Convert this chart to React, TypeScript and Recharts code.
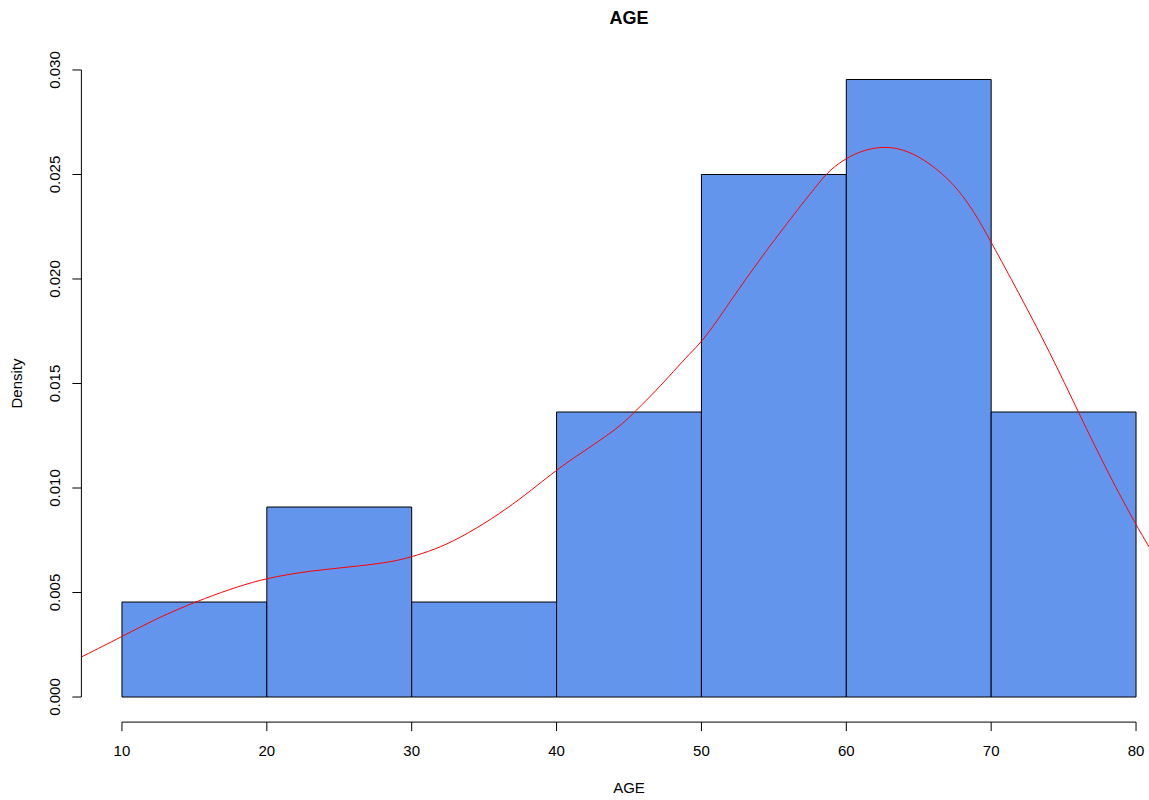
import React from "react";
import { ComposedChart, XAxis, YAxis, Line, ReferenceArea, ReferenceLine } from "recharts";

// histogram bins (AGE) and their densities
const binStarts = [10, 20, 30, 40, 50, 60, 70];
const binEnds = [20, 30, 40, 50, 60, 70, 80];
const binDensity = [0.004545, 0.009091, 0.004545, 0.013636, 0.025, 0.029545, 0.013636];

// kernel density estimate
const densX = [7.24, 10, 12.5, 15.1, 17.5, 19.5, 21.8, 24.1, 26.4, 28.7, 30, 31.5, 33.3, 35.6, 37.4, 39.2, 40, 41.16, 42.31, 43.46, 44.61, 45.41, 46.91, 48.06, 49.21, 50.02, 51.05, 52.2, 54.5, 56.8, 58.18, 58.87, 59.98, 61.17, 62.67, 64.17, 65.78, 67.39, 68.77, 70.04, 71.8, 74.1, 76, 78.2, 80, 80.9, 82.8];
const densY = [0.00193, 0.00289, 0.0038, 0.00456, 0.00517, 0.0056, 0.00592, 0.00611, 0.00627, 0.00647, 0.00671, 0.00703, 0.00759, 0.00855, 0.00943, 0.01042, 0.01085, 0.01143, 0.01196, 0.0125, 0.0131, 0.01365, 0.01469, 0.01557, 0.01644, 0.017, 0.01796, 0.01915, 0.02139, 0.02346, 0.02466, 0.02522, 0.02578, 0.02617, 0.02636, 0.02617, 0.02554, 0.02458, 0.0233, 0.02171, 0.01947, 0.01644, 0.01365, 0.01054, 0.00823, 0.00719, 0.005];

const xTicks = [10, 20, 30, 40, 50, 60, 70, 80];
const yTicks = [0, 0.005, 0.01, 0.015, 0.02, 0.025, 0.03];
const yTickLabels = ["0.000", "0.005", "0.010", "0.015", "0.020", "0.025", "0.030"];

const densityData = densX.map((x, i) => ({ x, d: densY[i] }));

const FONT = "'Liberation Sans', Arial, Helvetica, sans-serif";

const XTick = (props: any) => {
  const { x, y, payload } = props;
  return (
    <text x={x} y={y} dy={23} textAnchor="middle" fontFamily={FONT} fontSize={15} fill="#000">
      {String(payload.value)}
    </text>
  );
};

const YTick = (props: any) => {
  const { x, y, payload } = props;
  const idx = yTicks.indexOf(payload.value);
  const label = idx >= 0 ? yTickLabels[idx] : String(payload.value);
  const x0 = x - 10;
  return (
    <text
      x={x0}
      y={y}
      transform={`rotate(-90, ${x0}, ${y})`}
      textAnchor="middle"
      fontFamily={FONT}
      fontSize={15}
      fill="#000"
    >
      {label}
    </text>
  );
};

export default function App() {
  return (
    <div style={{ position: "fixed", left: 0, top: 0, width: 1149, height: 800, overflow: "hidden", background: "#fff" }}>
      <ComposedChart
        width={1200}
        height={800}
        data={densityData}
        margin={{ top: 44.9, right: 23.4, bottom: 37.9, left: 21.4 }}
      >
        <XAxis
          dataKey="x"
          type="number"
          domain={[7.2, 82.8]}
          allowDataOverflow
          ticks={xTicks}
          height={40}
          axisLine={false}
          tickLine={{ stroke: "#000", strokeWidth: 1 }}
          tickSize={9}
          tick={<XTick />}
          interval={0}
          label={(p: any) => {
            const vb = p.viewBox || { x: 81.4, y: 722.1, width: 1095.2 };
            return (
              <text x={vb.x + vb.width / 2} y={793} textAnchor="middle" fontFamily={FONT} fontSize={15} fill="#000">
                AGE
              </text>
            );
          }}
        />
        <YAxis
          type="number"
          domain={[-0.0012, 0.0312]}
          allowDataOverflow
          ticks={yTicks}
          width={60}
          axisLine={false}
          tickLine={{ stroke: "#000", strokeWidth: 1 }}
          tickSize={9}
          tick={<YTick />}
          interval={0}
          label={(p: any) => {
            const vb = p.viewBox || { x: 21.4, y: 44.9, height: 677.2 };
            const cy = vb.y + vb.height / 2;
            return (
              <text
                x={22}
                y={cy}
                transform={`rotate(-90, 22, ${cy})`}
                textAnchor="middle"
                fontFamily={FONT}
                fontSize={15}
                fill="#000"
              >
                Density
              </text>
            );
          }}
        />
        {binStarts.map((s, i) => (
          <ReferenceArea
            key={i}
            x1={s}
            x2={binEnds[i]}
            y1={0}
            y2={binDensity[i]}
            fill="#6495ED"
            fillOpacity={1}
            stroke="#000"
            strokeWidth={1}
            ifOverflow="visible"
          />
        ))}
        <ReferenceLine
          segment={[{ x: xTicks[0], y: -0.0012 }, { x: xTicks[xTicks.length - 1], y: -0.0012 }]}
          stroke="#000"
          strokeWidth={1}
          ifOverflow="visible"
        />
        <ReferenceLine
          segment={[{ x: 7.2, y: yTicks[0] }, { x: 7.2, y: yTicks[yTicks.length - 1] }]}
          stroke="#000"
          strokeWidth={1}
          ifOverflow="visible"
        />
        <Line
          data={densityData}
          dataKey="d"
          type="basis"
          stroke="#FF0000"
          strokeWidth={1}
          dot={false}
          activeDot={false}
          isAnimationActive={false}
        />
        <text x={629} y={23.5} textAnchor="middle" fontFamily={FONT} fontSize={18} fontWeight="bold" fill="#000">
          AGE
        </text>
      </ComposedChart>
    </div>
  );
}
